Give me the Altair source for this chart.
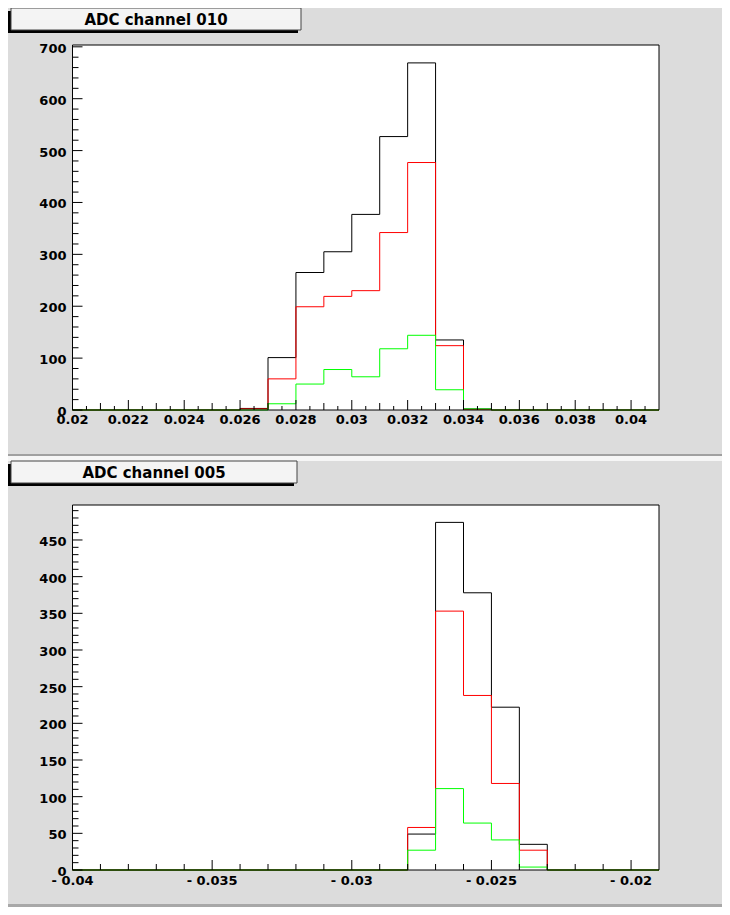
import altair as alt
import numpy as np
import pandas as pd

W, H = 714, 899
BG = "#dcdcdc"
FONT = "DejaVu Sans"

# ---------------- data: top panel (ADC channel 010) ----------------
top_title = "ADC channel 010"
top_xmin, top_xmax, top_nbins = 0.020, 0.041, 21
top_black = [0, 0, 0, 0, 0, 0, 3, 101, 265, 305, 377, 527, 669, 135, 2, 0, 0, 0, 0, 0, 0]
top_red = [0, 0, 0, 0, 0, 0, 2, 60, 199, 219, 230, 342, 477, 124, 1, 0, 0, 0, 0, 0, 0]
top_green = [0, 0, 0, 0, 0, 0, 0, 12, 50, 78, 64, 118, 144, 39, 2, 0, 0, 0, 0, 0, 0]
top_ymax = 703.5
top_xticks = [0.020, 0.022, 0.024, 0.026, 0.028, 0.030, 0.032, 0.034, 0.036, 0.038, 0.040]
top_xlabels = ["0.02", "0.022", "0.024", "0.026", "0.028", "0.03", "0.032", "0.034", "0.036", "0.038", "0.04"]
top_yticks = [0, 100, 200, 300, 400, 500, 600, 700]
top_ylabels = ["0", "100", "200", "300", "400", "500", "600", "700"]

# ---------------- data: bottom panel (ADC channel 005) ----------------
bot_title = "ADC channel 005"
bot_xmin, bot_xmax, bot_nbins = -0.040, -0.019, 21
bot_black = [0] * 12 + [49, 474, 378, 222, 35] + [0] * 4
bot_red = [0] * 12 + [58, 353, 238, 118, 27] + [0] * 4
bot_green = [0] * 12 + [27, 111, 64, 41, 4] + [0] * 4
bot_ymax = 497.7
bot_xticks = [-0.040, -0.035, -0.030, -0.025, -0.020]
bot_xlabels = ["- 0.04", "- 0.035", "- 0.03", "- 0.025", "- 0.02"]
bot_yticks = [0, 50, 100, 150, 200, 250, 300, 350, 400, 450]
bot_ylabels = ["0", "50", "100", "150", "200", "250", "300", "350", "400", "450"]

# ---------------- layout (pixels inside the chart) ----------------
FX0, FX1 = 64.5, 651.0
TOP_FRAME = (37.0, 402.0)
BOT_FRAME = (497.0, 862.0)


def one_row(**kw):
    return pd.DataFrame({k: [v] for k, v in kw.items()})


def box(x0, x1, y0, y1, **mk):
    return alt.Chart(one_row(a=0)).mark_rect(**mk).encode(
        x=alt.value(x0), x2=alt.value(x1), y=alt.value(y0), y2=alt.value(y1)
    )


def panel(title, xmin, xmax, nbins, series, ymax, xticks, xlabels, xmid, xminor,
          xlen, yticks, ylabels, yminor, frame, tbox, xlab_dy):
    top, bottom = frame
    edges = list(np.linspace(xmin, xmax, nbins + 1))
    xs = alt.Scale(domain=[xmin, xmax], range=[FX0, FX1], nice=False, zero=False)
    ys = alt.Scale(domain=[0, ymax], range=[bottom, top], nice=False, zero=False)

    def X(f):
        return alt.X(f, type="quantitative", scale=xs, axis=None)

    def Y(f):
        return alt.Y(f, type="quantitative", scale=ys, axis=None)

    layers = []
    fr = one_row(x=xmin, x2=xmax, y=0.0, y2=ymax)
    layers.append(alt.Chart(fr).mark_rect(fill="white").encode(
        x=X("x"), x2="x2", y=Y("y"), y2="y2"))

    for vals, color in series:
        df = pd.DataFrame({"x": edges, "y": list(vals) + [vals[-1]]})
        layers.append(alt.Chart(df).mark_line(
            interpolate="step-after", color=color, strokeWidth=1).encode(
            x=X("x"), y=Y("y")))

    layers.append(alt.Chart(fr).mark_rect(fillOpacity=0, stroke="black", strokeWidth=1).encode(
        x=X("x"), x2="x2", y=Y("y"), y2="y2"))

    # x ticks (inside, pointing up)
    for vals, ln in ((xticks, xlen[0]), (xmid, xlen[1]), (xminor, xlen[2])):
        if len(vals):
            layers.append(alt.Chart(pd.DataFrame({"x": vals})).mark_rule(
                color="black", strokeWidth=1).encode(
                x=X("x"), y=alt.value(bottom), y2=alt.value(bottom - ln)))
    # y ticks (inside, pointing right)
    for vals, ln in ((yticks, 10), (yminor, 6)):
        layers.append(alt.Chart(pd.DataFrame({"y": vals})).mark_rule(
            color="black", strokeWidth=1).encode(
            y=Y("y"), x=alt.value(FX0), x2=alt.value(FX0 + ln)))

    # tick labels
    layers.append(alt.Chart(pd.DataFrame({"x": xticks, "label": xlabels})).mark_text(
        font=FONT, fontSize=13, fontWeight="bold", align="center", baseline="middle",
        color="black").encode(x=X("x"), y=alt.value(bottom + xlab_dy), text="label:N"))
    layers.append(alt.Chart(pd.DataFrame({"y": yticks, "label": ylabels})).mark_text(
        font=FONT, fontSize=13, fontWeight="bold", align="right", baseline="middle",
        color="black", dy=2).encode(x=alt.value(FX0 - 6), y=Y("y"), text="label:N"))

    # title box with shadow
    bx0, bx1, by0, by1 = tbox
    layers.append(box(bx0 - 3, bx1 - 3, by0 + 3, by1 + 3, fill="black"))
    layers.append(box(bx0, bx1, by0, by1, fill="#f4f4f4", stroke="#444444", strokeWidth=1))
    layers.append(alt.Chart(one_row(t=title)).mark_text(
        font=FONT, fontSize=15, fontWeight="bold", align="center", baseline="middle",
        color="black").encode(x=alt.value((bx0 + bx1) / 2), y=alt.value((by0 + by1) / 2 + 1),
                              text="t:N"))
    return alt.layer(*layers)


top_mid = [round(0.021 + 0.002 * i, 4) for i in range(10)]
top_minor = [round(0.0205 + 0.001 * i, 4) for i in range(21)]
top_yminor = [v for v in range(0, 701, 20) if v % 100]
bot_minor = [round(-0.040 + 0.001 * i, 4) for i in range(21) if i % 5]
bot_yminor = [v for v in range(0, 491, 10) if v % 50]

top_panel = panel(top_title, top_xmin, top_xmax, top_nbins,
                  [(top_black, "black"), (top_red, "#ff0000"), (top_green, "#00ff00")],
                  top_ymax, top_xticks, top_xlabels, top_mid, top_minor, (10, 7, 4),
                  top_yticks, top_ylabels, top_yminor, TOP_FRAME, (3, 293, 0, 22), 10)

bot_panel = panel(bot_title, bot_xmin, bot_xmax, bot_nbins,
                  [(bot_black, "black"), (bot_red, "#ff0000"), (bot_green, "#00ff00")],
                  bot_ymax, bot_xticks, bot_xlabels, [], bot_minor, (10, 6, 6),
                  bot_yticks, bot_ylabels, bot_yminor, BOT_FRAME, (3, 289, 453, 475), 11)

decor = [
    box(0, W, 0, H, fill=BG),
    box(0, W, 446, 448, fill="#a0a0a0"),
    box(0, W, 448, 453, fill="#f6f6f6"),
    box(0, W, 896, 899, fill="#a8a8a8"),
]

chart = alt.layer(*decor, top_panel, bot_panel).resolve_scale(
    x="independent", y="independent"
).properties(
    width=W, height=H, padding=0, background=BG,
    autosize=alt.AutoSizeParams(type="none"),
).configure_view(stroke=None)

chart.save("out.html", embed_options={"renderer": "svg", "actions": False})
